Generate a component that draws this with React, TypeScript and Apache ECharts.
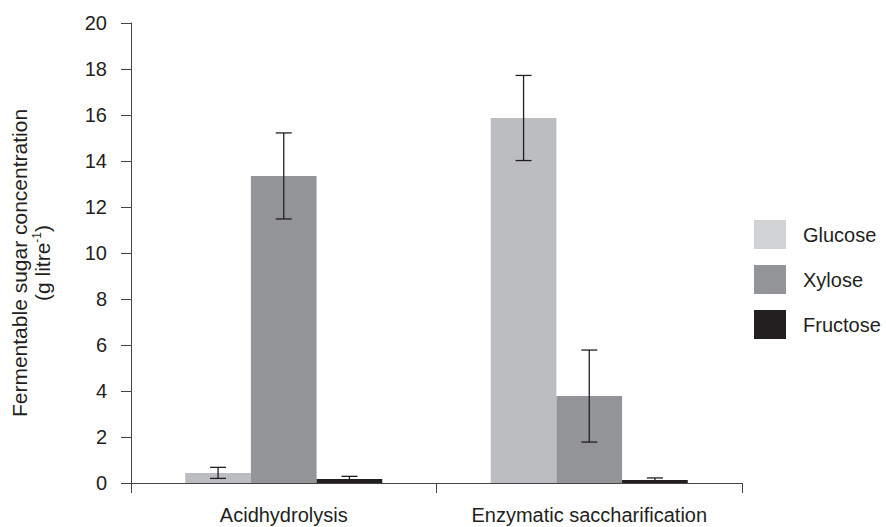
import React, { useEffect, useRef } from "react";
import * as echarts from "echarts";

const categories = ["Acidhydrolysis", "Enzymatic saccharification"];
const seriesNames = ["Glucose", "Xylose", "Fructose"];
const glucose = [0.44, 15.87];
const xylose = [13.35, 3.78];
const fructose = [0.17, 0.13];
const glucoseErr = [0.24, 1.85];
const xyloseErr = [1.87, 2.0];
const fructoseErr = [0.12, 0.09];
const yTicks = [0, 20, 2];

const FONT = "'Liberation Sans', Arial, sans-serif";
const colors = ["#bcbdc0", "#939498", "#231f20"];
const legendColors = ["#d1d2d4", "#939498", "#231f20"];
const BAR_FRAC = 0.215;

export default function App() {
  const ref = useRef<HTMLDivElement>(null);
  useEffect(() => {
    if (!ref.current) return;
    const chart = echarts.init(ref.current, null, { renderer: "svg" });
    const values = [glucose, xylose, fructose];
    const errs = [glucoseErr, xyloseErr, fructoseErr];
    const errData: any[] = [];
    for (let s = 0; s < 3; s++) {
      for (let c = 0; c < categories.length; c++) {
        errData.push([c, values[s][c] - errs[s][c], values[s][c] + errs[s][c], s]);
      }
    }
    chart.setOption({
      animation: false,
      textStyle: { fontFamily: FONT },
      grid: { left: 127, right: 144, top: 23, bottom: 44 },
      legend: {
        orient: "vertical",
        left: 754,
        top: 220,
        padding: 0,
        itemWidth: 32,
        itemHeight: 29,
        itemGap: 16,
        icon: "rect",
        textStyle: { fontSize: 20, color: "#231f20", fontFamily: FONT, padding: [0, 0, 0, 12] },
        data: seriesNames.map((n, i) => ({ name: n, itemStyle: { color: legendColors[i] } })),
      },
      xAxis: {
        type: "category",
        data: categories,
        axisLine: { lineStyle: { color: "#444", width: 1 } },
        axisTick: { show: true, length: 10, alignWithLabel: false, lineStyle: { color: "#444" } },
        axisLabel: { fontSize: 20, color: "#231f20", margin: 22, interval: 0, fontFamily: FONT },
      },
      yAxis: {
        type: "value",
        min: yTicks[0],
        max: yTicks[1],
        interval: yTicks[2],
        splitLine: { show: false },
        axisLine: { show: true, lineStyle: { color: "#444", width: 1 } },
        axisTick: { show: true, length: 10, lineStyle: { color: "#444" } },
        axisLabel: { fontSize: 20, color: "#231f20", margin: 24, fontFamily: FONT },
        name: "Fermentable sugar concentration\n(g litre{sup|-1})",
        nameLocation: "middle",
        nameRotate: 90,
        nameGap: 77,
        nameTextStyle: {
          fontSize: 21,
          color: "#231f20",
          lineHeight: 23,
          fontFamily: FONT,
          padding: [0, 20, 0, 0],
          rich: {
            sup: { fontSize: 12, verticalAlign: "top", lineHeight: 18, color: "#231f20", fontFamily: FONT },
          },
        },
      },
      series: [
        ...seriesNames.map((n, i) => ({
          name: n,
          type: "bar",
          data: values[i],
          barWidth: BAR_FRAC * 100 + "%",
          barGap: "0%",
          itemStyle: { color: colors[i] },
        })),
        {
          type: "custom",
          name: "err",
          data: errData,
          z: 10,
          renderItem: (params: any, api: any) => {
            const c = api.value(0);
            const lo = api.value(1);
            const hi = api.value(2);
            const s = api.value(3);
            const bw = api.size([1, 0])[0] * BAR_FRAC;
            const pLo = api.coord([c, lo]);
            const pHi = api.coord([c, hi]);
            const x = pLo[0] + (s - 1) * bw;
            const cw = 8;
            const style = { stroke: "#231f20", lineWidth: 1.3 };
            return {
              type: "group",
              children: [
                { type: "line", shape: { x1: x, y1: pLo[1], x2: x, y2: pHi[1] }, style },
                { type: "line", shape: { x1: x - cw, y1: pLo[1], x2: x + cw, y2: pLo[1] }, style },
                { type: "line", shape: { x1: x - cw, y1: pHi[1], x2: x + cw, y2: pHi[1] }, style },
              ],
            };
          },
        },
      ],
    });
    return () => chart.dispose();
  }, []);
  return <div ref={ref} style={{ position: "absolute", left: 0, top: 0, width: 886, height: 527 }} />;
}
